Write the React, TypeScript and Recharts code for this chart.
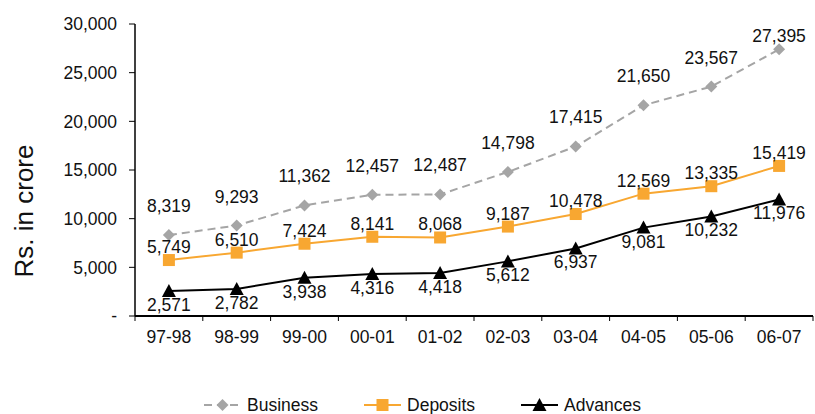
import React from 'react';
import { LineChart, Line, XAxis, YAxis, LabelList, Legend } from 'recharts';

const categories = ['97-98', '98-99', '99-00', '00-01', '01-02', '02-03', '03-04', '04-05', '05-06', '06-07'];
const business = [8319, 9293, 11362, 12457, 12487, 14798, 17415, 21650, 23567, 27395];
const deposits = [5749, 6510, 7424, 8141, 8068, 9187, 10478, 12569, 13335, 15419];
const advances = [2571, 2782, 3938, 4316, 4418, 5612, 6937, 9081, 10232, 11976];
const yTicks = [0, 5000, 10000, 15000, 20000, 25000, 30000];

const data = categories.map((cat, i) => ({
  cat,
  business: business[i],
  deposits: deposits[i],
  advances: advances[i],
}));

const FONT = '"Liberation Sans", Arial, sans-serif';
const FS = 17.5;
const GRAY = '#A5A5A5';
const ORANGE = '#F8A731';
const BLACK = '#000000';
const X_TICK_MARGIN = 15;

const fmt = (v: number) => (v === 0 ? '-' : v.toLocaleString('en-US'));

const Diamond = (props: any) => {
  const { cx, cy } = props;
  if (cx == null || cy == null) return null;
  const r = 6;
  return <polygon points={`${cx},${cy - r} ${cx + r},${cy} ${cx},${cy + r} ${cx - r},${cy}`} fill={GRAY} stroke="none" />;
};
const Square = (props: any) => {
  const { cx, cy } = props;
  if (cx == null || cy == null) return null;
  const s = 12;
  return <rect x={cx - s / 2} y={cy - s / 2} width={s} height={s} fill={ORANGE} stroke="none" />;
};
const Triangle = (props: any) => {
  const { cx, cy } = props;
  if (cx == null || cy == null) return null;
  return <polygon points={`${cx},${cy - 7} ${cx + 7},${cy + 6} ${cx - 7},${cy + 6}`} fill={BLACK} stroke="none" />;
};

const labelText = (x: number, y: number, value: number) => (
  <text x={x} y={y} textAnchor="middle" fill="#111" fontSize={FS} fontFamily={FONT}>
    {fmt(value)}
  </text>
);

const BusinessLabel = (props: any) => labelText(props.x, Math.max(props.y - 23, 42), props.value);
const DepositsLabel = (props: any) => labelText(props.x, props.y - 7, props.value);
const AdvancesLabel = (props: any) => labelText(props.x, props.y + 20, props.value);

const CategoryTick = (props: any) => {
  const { x, y, payload, index, visibleTicksCount } = props;
  const half = payload && typeof payload.offset === 'number' ? payload.offset : 0;
  const axisY = y - X_TICK_MARGIN;
  return (
    <g>
      <line x1={x - half} x2={x - half} y1={axisY} y2={axisY + 5} stroke={BLACK} strokeWidth={1} />
      {index === visibleTicksCount - 1 && (
        <line x1={x + half} x2={x + half} y1={axisY} y2={axisY + 5} stroke={BLACK} strokeWidth={1} />
      )}
      <text x={x} y={y} dy="0.71em" textAnchor="middle" fill="#111" fontSize={FS} fontFamily={FONT}>
        {payload.value}
      </text>
    </g>
  );
};

const LegendIcon = ({ kind }: { kind: string }) => (
  <svg width={37} height={14} style={{ display: 'block' }}>
    {kind === 'business' && (
      <>
        <line x1={0} y1={7} x2={37} y2={7} stroke={GRAY} strokeWidth={2} strokeDasharray="8 5" />
        <polygon points="18.5,1 24.5,7 18.5,13 12.5,7" fill={GRAY} />
      </>
    )}
    {kind === 'deposits' && (
      <>
        <line x1={0} y1={7} x2={37} y2={7} stroke={ORANGE} strokeWidth={2} />
        <rect x={12.5} y={1} width={12} height={12} fill={ORANGE} />
      </>
    )}
    {kind === 'advances' && (
      <>
        <line x1={0} y1={7} x2={37} y2={7} stroke={BLACK} strokeWidth={2} />
        <polygon points="18.5,0 25.5,13 11.5,13" fill={BLACK} />
      </>
    )}
  </svg>
);

const legendItems = [
  { kind: 'business', name: 'Business' },
  { kind: 'deposits', name: 'Deposits' },
  { kind: 'advances', name: 'Advances' },
];

const LegendContent = () => (
  <div style={{ display: 'flex', alignItems: 'center', fontFamily: FONT, fontSize: FS, color: '#111', lineHeight: '20px' }}>
    {legendItems.map((it, i) => (
      <div key={it.kind} style={{ display: 'flex', alignItems: 'center', marginRight: i < 2 ? 46 : 0 }}>
        <LegendIcon kind={it.kind} />
        <span style={{ marginLeft: 6 }}>{it.name}</span>
      </div>
    ))}
  </div>
);

const YLabel = () => {
  const x = 24;
  const y = 211;
  return (
    <text x={x} y={y} transform={`rotate(-90, ${x}, ${y})`} textAnchor="middle" dominantBaseline="central" fill="#111" fontSize={26} fontFamily={FONT}>
      Rs. in crore
    </text>
  );
};

export default function App() {
  return (
    <div style={{ position: 'absolute', left: 0, top: 0 }}>
      <LineChart width={815} height={414} data={data} margin={{ top: 24, right: 2, left: 0, bottom: 0 }} style={{ fontFamily: FONT }}>
        <XAxis
          dataKey="cat"
          scale="band"
          height={98}
          axisLine={{ stroke: BLACK, strokeWidth: 2 }}
          tickLine={false}
          tickSize={0}
          tickMargin={X_TICK_MARGIN}
          interval={0}
          tick={<CategoryTick />}
        />
        <YAxis
          width={135}
          domain={[0, 30000]}
          ticks={yTicks}
          interval={0}
          tickFormatter={fmt}
          axisLine={{ stroke: BLACK, strokeWidth: 1.5 }}
          tickLine={{ stroke: BLACK, strokeWidth: 1 }}
          tickSize={6}
          tickMargin={12}
          tick={{ fill: '#111', fontSize: FS, fontFamily: FONT }}
          label={<YLabel />}
        />
        <Legend
          verticalAlign="middle"
          layout="horizontal"
          wrapperStyle={{ top: 395, left: 204, width: 'auto' }}
          content={() => <LegendContent />}
        />
        <Line dataKey="business" stroke={GRAY} strokeWidth={2} strokeDasharray="8 5" dot={<Diamond />} activeDot={false} isAnimationActive={false}>
          <LabelList dataKey="business" content={<BusinessLabel />} />
        </Line>
        <Line dataKey="deposits" stroke={ORANGE} strokeWidth={2} dot={<Square />} activeDot={false} isAnimationActive={false}>
          <LabelList dataKey="deposits" content={<DepositsLabel />} />
        </Line>
        <Line dataKey="advances" stroke={BLACK} strokeWidth={2} dot={<Triangle />} activeDot={false} isAnimationActive={false}>
          <LabelList dataKey="advances" content={<AdvancesLabel />} />
        </Line>
      </LineChart>
    </div>
  );
}
